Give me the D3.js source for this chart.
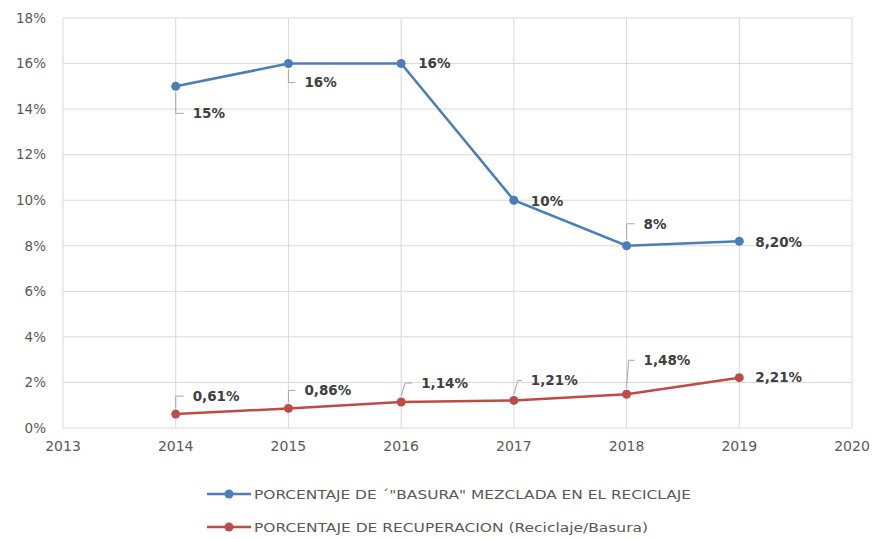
<!DOCTYPE html>
<html>
<head>
<meta charset="utf-8">
<script src="https://cdn.jsdelivr.net/npm/d3@7"></script>
<style>
  body { margin: 0; background: #fff; }
  text { font-family: "DejaVu Sans", sans-serif; }
</style>
</head>
<body>
<div id="chart"></div>
<script>
// datos
const years = [2014, 2015, 2016, 2017, 2018, 2019]
const basura = [15, 16, 16, 10, 8, 8.2]
const recuperacion = [0.61, 0.86, 1.14, 1.21, 1.48, 2.21]
const basuraLabels = ['15%', '16%', '16%', '10%', '8%', '8,20%']
const recupLabels = ['0,61%', '0,86%', '1,14%', '1,21%', '1,48%', '2,21%']
const xTicks = [2013, 2014, 2015, 2016, 2017, 2018, 2019, 2020]
const yTicks = [0, 2, 4, 6, 8, 10, 12, 14, 16, 18]
const seriesNames = [
  'PORCENTAJE DE \u00b4"BASURA" MEZCLADA EN EL RECICLAJE',
  'PORCENTAJE DE RECUPERACION (Reciclaje/Basura)'
]

// posicion de las etiquetas respecto al punto: [dx, dy, con linea guia, dx de quiebre]
const basuraLab = [[17, 27, true, 0], [16, 19, true, 0], [17, 0, false], [17, 1, false], [17, -22, true, 0], [16, 1, false]]
const recupLab = [[17, -18, true, 0], [16, -18, true, 0], [20, -19, true, 4], [17, -20, true, 4], [17, -34, true, 2], [16, 0, false]]

const W = 872, H = 539
const margin = { left: 63, right: 20, top: 18, bottom: 111 }

const svg = d3.select('#chart').append('svg')
  .attr('width', W).attr('height', H)

const x = d3.scaleLinear().domain([2013, 2020]).range([margin.left, W - margin.right])
const y = d3.scaleLinear().domain([0, 18]).range([H - margin.bottom, margin.top])

const grid = svg.append('g')
grid.selectAll('line.h').data(yTicks).join('line')
  .attr('x1', x(2013)).attr('x2', x(2020))
  .attr('y1', d => y(d)).attr('y2', d => y(d))
  .attr('stroke', '#d9d9d9').attr('stroke-width', 1)
grid.selectAll('line.v').data(xTicks).join('line')
  .attr('x1', d => x(d)).attr('x2', d => x(d))
  .attr('y1', y(0)).attr('y2', y(18))
  .attr('stroke', '#d9d9d9').attr('stroke-width', 1)

svg.append('g').selectAll('text').data(yTicks).join('text')
  .attr('x', x(2013) - 17).attr('y', d => y(d)).attr('dy', '0.35em')
  .attr('text-anchor', 'end').attr('font-size', 13.5).attr('fill', '#595959')
  .text(d => d + '%')

svg.append('g').selectAll('text').data(xTicks).join('text')
  .attr('x', d => x(d)).attr('y', y(0) + 23)
  .attr('text-anchor', 'middle').attr('font-size', 14).attr('fill', '#595959')
  .text(d => d)

const line = d3.line().x(d => x(d[0])).y(d => y(d[1]))

function drawSeries(vals, labels, offs, color) {
  const pts = years.map((yr, i) => [yr, vals[i]])
  svg.append('path').datum(pts)
    .attr('d', line).attr('fill', 'none')
    .attr('stroke', color).attr('stroke-width', 2.5)
  svg.append('g').selectAll('circle').data(pts).join('circle')
    .attr('cx', d => x(d[0])).attr('cy', d => y(d[1])).attr('r', 4.5)
    .attr('fill', color)
  const g = svg.append('g')
  pts.forEach((p, i) => {
    const px = x(p[0]), py = y(p[1])
    const o = offs[i]
    if (o[2]) {
      const sy = o[1] > 0 ? py + 6 : py - 6
      g.append('path')
        .attr('d', `M${px},${sy}L${px + o[3]},${py + o[1]}L${px + o[0] - 9},${py + o[1]}`)
        .attr('fill', 'none').attr('stroke', '#a6a6a6').attr('stroke-width', 1)
    }
    g.append('text')
      .attr('x', px + o[0]).attr('y', py + o[1]).attr('dy', '0.35em')
      .attr('font-size', 13.5).attr('font-weight', 'bold').attr('fill', '#404040')
      .text(labels[i])
  })
}

drawSeries(basura, basuraLabels, basuraLab, '#4a7ebb')
drawSeries(recuperacion, recupLabels, recupLab, '#be4b48')

const legend = svg.append('g')
const legColors = ['#4a7ebb', '#be4b48']
const legWidths = [437, 394]
seriesNames.forEach((name, i) => {
  const ly = 494 + i * 33
  legend.append('line').attr('x1', 207).attr('x2', 251).attr('y1', ly).attr('y2', ly)
    .attr('stroke', legColors[i]).attr('stroke-width', 2.5)
  legend.append('circle').attr('cx', 229).attr('cy', ly).attr('r', 4.5).attr('fill', legColors[i])
  legend.append('text').attr('x', 254).attr('y', ly).attr('dy', '0.35em')
    .attr('font-size', 13).attr('fill', '#595959')
    .attr('textLength', legWidths[i]).attr('lengthAdjust', 'spacingAndGlyphs')
    .text(name)
})
</script>
</body>
</html>
